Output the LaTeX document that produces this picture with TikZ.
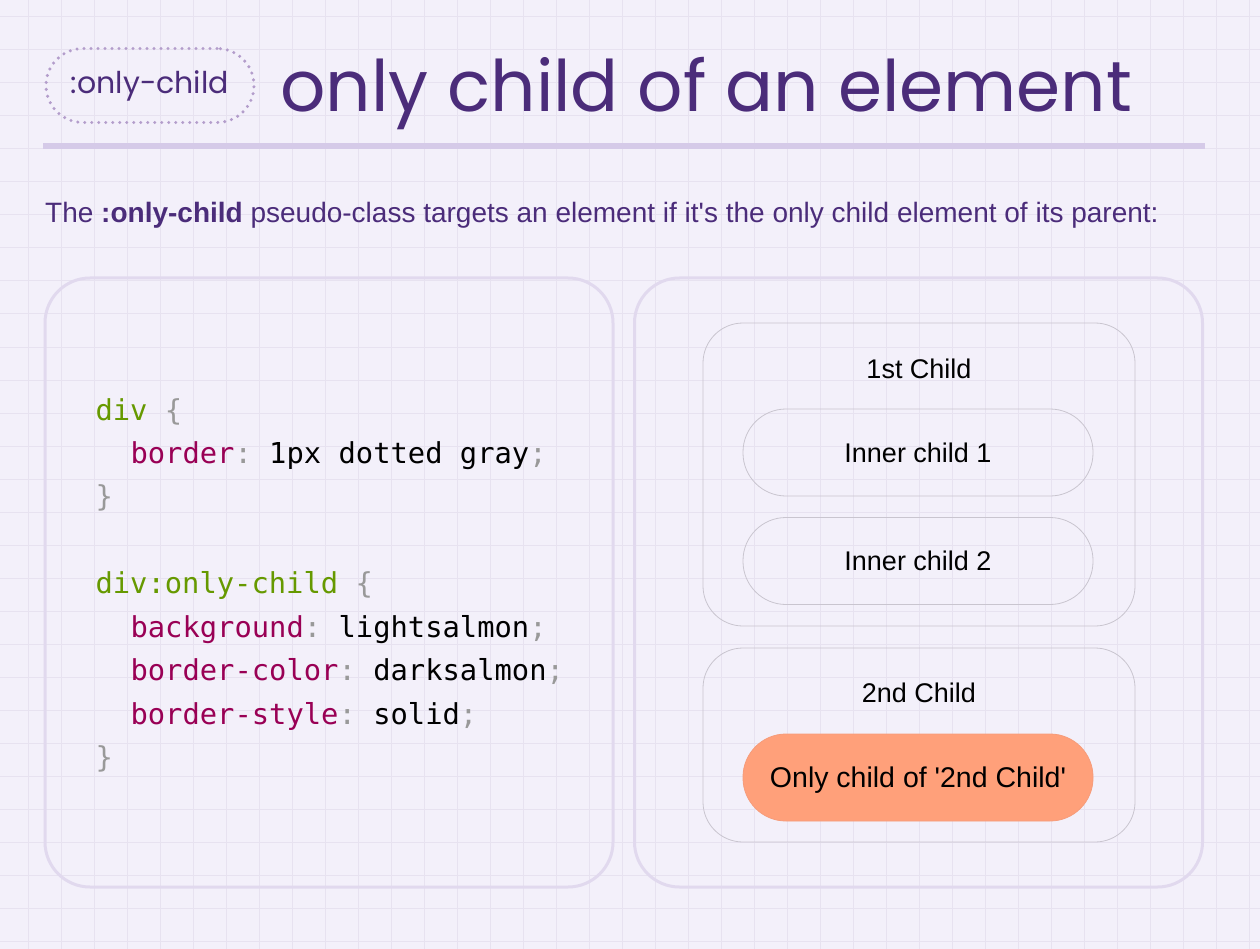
\documentclass[tikz,border=0pt]{standalone}
\usepackage{fontspec}
\setmainfont{Liberation Sans}
\setmonofont{DejaVu Sans Mono}
\newfontfamily\headfont{Poppins}
\usepackage{xcolor}
\usetikzlibrary{positioning}

\definecolor{bgpaper}{HTML}{F3F0FA}
\definecolor{gridline}{HTML}{E7E2F0}
\definecolor{titlepurple}{HTML}{4B2C7A}
\definecolor{barlilac}{HTML}{D5CAE8}
\definecolor{pilldots}{HTML}{B39DCB}
\definecolor{panelrim}{HTML}{E1D9EE}
\definecolor{boxrim}{HTML}{C9C5CF}
\definecolor{codegreen}{HTML}{669900}
\definecolor{codeprop}{HTML}{990055}
\definecolor{codepunct}{HTML}{999999}
\definecolor{lightsalmon}{HTML}{FFA07A}
\definecolor{darksalmon}{HTML}{E9967A}

\newcommand{\csssel}[1]{\textcolor{codegreen}{#1}}
\newcommand{\cssprop}[1]{\textcolor{codeprop}{#1}}
\newcommand{\csspunct}[1]{\textcolor{codepunct}{#1}}

\tikzset{
  panel/.style={draw=panelrim, line width=3pt, rounded corners=45pt,
    minimum width=568pt, minimum height=609pt},
  childbox/.style={draw=boxrim, line width=0.8pt, rounded corners=40pt,
    minimum width=432pt},
  innerpill/.style={draw=boxrim, line width=0.8pt, rounded corners=43pt,
    minimum width=350pt, minimum height=87pt, text height=19.4pt, text depth=0pt,
    font=\fontsize{27}{32}\selectfont},
  boxlabel/.style={anchor=base, font=\fontsize{27}{32}\selectfont},
  codeline/.style={anchor=base west, font=\fontsize{28.8}{34}\selectfont\ttfamily},
}

\begin{document}
\begin{tikzpicture}[x=1pt, y=-1pt]
    % paper and grid
    \fill[bgpaper] (0,0) rectangle (1260,949);
    \useasboundingbox (0,0) rectangle (1260,949);
    \foreach \gx in {28,61,...,1260} {
        \draw[gridline, line width=1pt] (\gx,0) -- (\gx,949);
    }
    \foreach \gy in {17,50,...,949} {
        \draw[gridline, line width=1pt] (0,\gy) -- (1260,\gy);
    }

    % heading
    \node[draw=pilldots, line width=3.4pt, line cap=round, dash pattern=on 0pt off 7pt,
          rounded corners=37pt, minimum width=208pt, minimum height=74pt,
          text=titlepurple, font=\headfont\fontsize{30}{36}\selectfont]
          (tag) at (150,85.5) {:only-child};
    \node[anchor=base west, text=titlepurple, inner sep=0pt,
          font=\headfont\fontsize{71}{80}\selectfont]
          (title) at (280,112) {only child of an element};
    \fill[barlilac] (43,143) rectangle (1205,149);
    \node[anchor=base west, text=titlepurple, inner sep=0pt,
          font=\fontsize{28}{33}\selectfont]
          (lead) at (45,223) {The \textbf{:only-child} pseudo-class targets an element if it\textquotesingle s the only child element of its parent:};

    % the two panels
    \node[panel] (codepanel) at (329,582.5) {};
    \node[panel] (demopanel) at (918.5,582.5) {};

    % css code
    \node[codeline] (code1) at (92,420) {\csssel{div} \csspunct{\{}};
    \node[codeline] (code2) at (127,463) {\cssprop{border}\csspunct{:} 1px dotted gray\csspunct{;}};
    \node[codeline] (code3) at (92,506) {\csspunct{\}}};
    \node[codeline] (code4) at (92,593) {\csssel{div:only-child} \csspunct{\{}};
    \node[codeline] (code5) at (127,637) {\cssprop{background}\csspunct{:} lightsalmon\csspunct{;}};
    \node[codeline] (code6) at (127,680) {\cssprop{border-color}\csspunct{:} darksalmon\csspunct{;}};
    \node[codeline] (code7) at (127,724) {\cssprop{border-style}\csspunct{:} solid\csspunct{;}};
    \node[codeline] (code8) at (92,767) {\csspunct{\}}};

    % rendered result
    \node[childbox, minimum height=303pt] (first) at (919,474.5) {};
    \node[boxlabel] (firstlabel) at (919,378) {1st Child};
    \node[innerpill] (inner1) at (918,452.5) {Inner child 1};
    \node[innerpill] (inner2) at (918,561) {Inner child 2};

    \node[childbox, minimum height=194pt] (second) at (919,745) {};
    \node[boxlabel] (secondlabel) at (919,702) {2nd Child};
    \node[innerpill, fill=lightsalmon, draw=darksalmon!40!lightsalmon,
          font=\fontsize{28.5}{33}\selectfont] (only) at (918,777.5) {Only child of \textquotesingle 2nd Child\textquotesingle};
\end{tikzpicture}
\end{document}
